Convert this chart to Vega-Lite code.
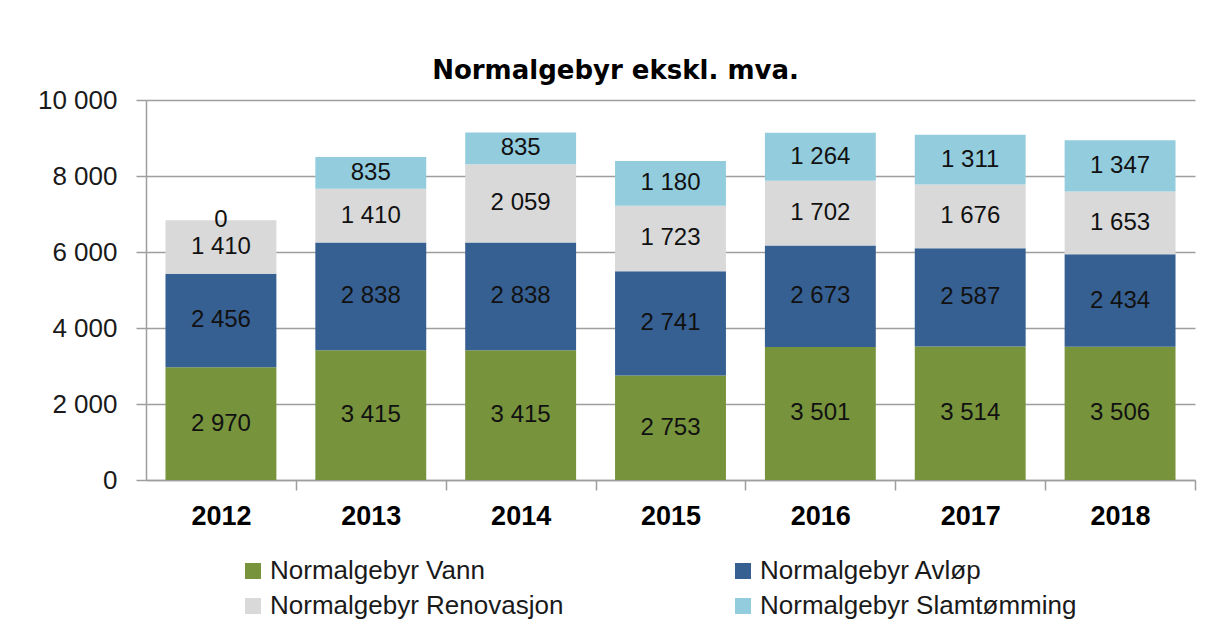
{
  "$schema": "https://vega.github.io/schema/vega-lite/v6.json",
  "width": 1049,
  "height": 380,
  "autosize": {"type": "none"},
  "padding": {"left": 146, "top": 100, "right": 17, "bottom": 157},
  "background": "white",
  "title": {
    "text": "Normalgebyr ekskl. mva.",
    "font": "DejaVu Sans",
    "fontSize": 26,
    "fontWeight": "bold",
    "color": "#000000",
    "anchor": "middle",
    "dx": -55,
    "offset": 3
  },
  "data": {
    "values": [
      {"year": "2012", "type": "Normalgebyr Vann", "order": 1, "value": 2970},
      {"year": "2012", "type": "Normalgebyr Avløp", "order": 2, "value": 2456},
      {"year": "2012", "type": "Normalgebyr Renovasjon", "order": 3, "value": 1410},
      {"year": "2012", "type": "Normalgebyr Slamtømming", "order": 4, "value": 0},
      {"year": "2013", "type": "Normalgebyr Vann", "order": 1, "value": 3415},
      {"year": "2013", "type": "Normalgebyr Avløp", "order": 2, "value": 2838},
      {"year": "2013", "type": "Normalgebyr Renovasjon", "order": 3, "value": 1410},
      {"year": "2013", "type": "Normalgebyr Slamtømming", "order": 4, "value": 835},
      {"year": "2014", "type": "Normalgebyr Vann", "order": 1, "value": 3415},
      {"year": "2014", "type": "Normalgebyr Avløp", "order": 2, "value": 2838},
      {"year": "2014", "type": "Normalgebyr Renovasjon", "order": 3, "value": 2059},
      {"year": "2014", "type": "Normalgebyr Slamtømming", "order": 4, "value": 835},
      {"year": "2015", "type": "Normalgebyr Vann", "order": 1, "value": 2753},
      {"year": "2015", "type": "Normalgebyr Avløp", "order": 2, "value": 2741},
      {"year": "2015", "type": "Normalgebyr Renovasjon", "order": 3, "value": 1723},
      {"year": "2015", "type": "Normalgebyr Slamtømming", "order": 4, "value": 1180},
      {"year": "2016", "type": "Normalgebyr Vann", "order": 1, "value": 3501},
      {"year": "2016", "type": "Normalgebyr Avløp", "order": 2, "value": 2673},
      {"year": "2016", "type": "Normalgebyr Renovasjon", "order": 3, "value": 1702},
      {"year": "2016", "type": "Normalgebyr Slamtømming", "order": 4, "value": 1264},
      {"year": "2017", "type": "Normalgebyr Vann", "order": 1, "value": 3514},
      {"year": "2017", "type": "Normalgebyr Avløp", "order": 2, "value": 2587},
      {"year": "2017", "type": "Normalgebyr Renovasjon", "order": 3, "value": 1676},
      {"year": "2017", "type": "Normalgebyr Slamtømming", "order": 4, "value": 1311},
      {"year": "2018", "type": "Normalgebyr Vann", "order": 1, "value": 3506},
      {"year": "2018", "type": "Normalgebyr Avløp", "order": 2, "value": 2434},
      {"year": "2018", "type": "Normalgebyr Renovasjon", "order": 3, "value": 1653},
      {"year": "2018", "type": "Normalgebyr Slamtømming", "order": 4, "value": 1347}
    ]
  },
  "transform": [
    {"stack": "value", "groupby": ["year"], "sort": [{"field": "order", "order": "ascending"}], "as": ["v0", "v1"]},
    {"calculate": "(datum.v0 + datum.v1) / 2", "as": "vmid"}
  ],
  "encoding": {
    "x": {
      "field": "year",
      "type": "nominal",
      "title": null,
      "scale": {"paddingInner": 0.26, "paddingOuter": 0.13},
      "axis": {
        "labelAngle": 0,
        "labelFont": "Liberation Sans",
        "labelFontSize": 27,
        "labelFontWeight": "bold",
        "labelColor": "#000000",
        "labelPadding": 13,
        "bandPosition": 1,
        "tickExtra": false,
        "tickOffset": 19.5,
        "labelOffset": -19.5,
        "tickSize": 10,
        "tickColor": "#9E9E9E",
        "tickWidth": 1.5,
        "domainColor": "#9E9E9E",
        "domainWidth": 1.5,
        "grid": false
      }
    }
  },
  "layer": [
    {
      "mark": {"type": "bar"},
      "encoding": {
        "y": {
          "field": "v1",
          "type": "quantitative",
          "title": null,
          "scale": {"domain": [0, 10000], "nice": false},
          "axis": {
            "values": [0, 2000, 4000, 6000, 8000, 10000],
            "format": ",.0f",
            "labelFont": "Liberation Sans",
            "labelFontSize": 26,
            "labelColor": "#1a1a1a",
            "labelPadding": 19,
            "tickSize": 10,
            "tickColor": "#9E9E9E",
            "tickWidth": 1.5,
            "domainColor": "#9E9E9E",
            "domainWidth": 1.5,
            "grid": true,
            "gridColor": "#9E9E9E",
            "gridWidth": 1.5
          }
        },
        "y2": {"field": "v0"},
        "color": {
          "field": "type",
          "type": "nominal",
          "title": null,
          "scale": {
            "domain": ["Normalgebyr Vann", "Normalgebyr Avløp", "Normalgebyr Renovasjon", "Normalgebyr Slamtømming"],
            "range": ["#77933C", "#376092", "#D9D9D9", "#93CDDD"]
          },
          "legend": {
            "orient": "none",
            "legendX": 94,
            "legendY": 458,
            "direction": "horizontal",
            "columns": 2,
            "columnPadding": 166,
            "rowPadding": 9,
            "padding": 0,
            "symbolType": "square",
            "symbolSize": 256,
            "symbolStrokeWidth": 0,
            "labelFont": "Liberation Sans",
            "labelFontSize": 26,
            "labelColor": "#1a1a1a",
            "labelOffset": 4,
            "labelLimit": 600
          }
        }
      }
    },
    {
      "mark": {"type": "text", "font": "Liberation Sans", "fontSize": 24, "color": "#111111", "baseline": "middle", "align": "center"},
      "encoding": {
        "y": {"field": "vmid", "type": "quantitative"},
        "text": {"field": "value", "type": "quantitative", "format": ",.0f"}
      }
    }
  ],
  "config": {
    "locale": {"number": {"decimal": ",", "thousands": " ", "grouping": [3], "currency": ["", " kr"]}},
    "view": {"stroke": null}
  }
}
